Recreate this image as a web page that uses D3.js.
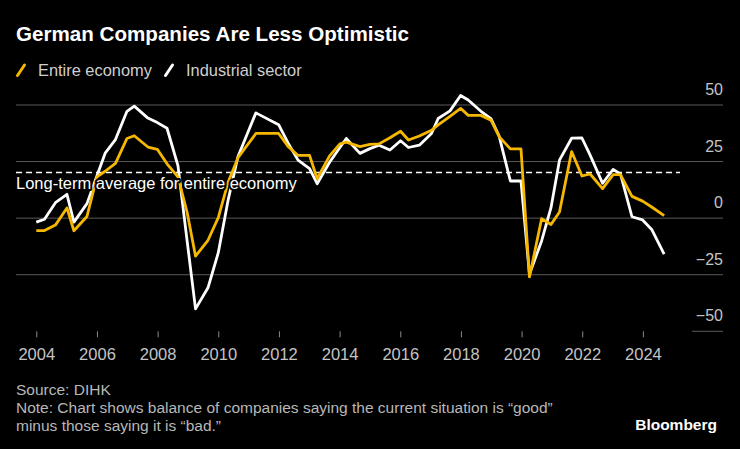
<!DOCTYPE html>
<html>
<head>
<meta charset="utf-8">
<script src="https://cdn.jsdelivr.net/npm/d3@7"></script>
<style>
  html, body { margin: 0; padding: 0; background: #000; }
  svg { display: block; }
  text { font-family: "Liberation Sans", Arial, sans-serif; }
</style>
</head>
<body>
<svg id="chart" width="740" height="449"></svg>
<script>
// ---- data ----
const dates = [2004.00, 2004.27, 2004.63, 2005.01, 2005.24, 2005.67, 2006.00, 2006.27, 2006.61, 2006.99,
  2007.23, 2007.68, 2007.99, 2008.31, 2008.67, 2008.97, 2009.25, 2009.66, 2010.00, 2010.32,
  2010.65, 2011.24, 2011.99, 2012.30, 2012.63, 2013.01, 2013.26, 2013.67, 2014.01, 2014.22,
  2014.67, 2015.00, 2015.30, 2015.66, 2016.01, 2016.27, 2016.63, 2017.03, 2017.25, 2017.64,
  2017.99, 2018.24, 2018.66, 2018.99, 2019.26, 2019.63, 2019.98, 2020.26, 2020.66, 2020.97,
  2021.25, 2021.65, 2021.99, 2022.26, 2022.67, 2023.02, 2023.26, 2023.64, 2023.99, 2024.29, 2024.70];
const entireEconomy = [-5.7, -5.7, -3.3, 4.3, -5.8, 0.5, 18.0, 20.5, 24.0, 35.0,
  36.2, 31.2, 30.2, 23.8, 18.0, 2.5, -17.0, -10.0, 0.0, 15.5,
  26.5, 37.2, 37.2, 31.5, 27.5, 27.5, 17.2, 27.3, 32.6, 33.4,
  31.4, 32.4, 32.6, 35.3, 38.2, 34.3, 36.1, 38.6, 41.0, 44.8,
  48.3, 45.2, 45.2, 43.1, 35.8, 30.4, 30.4, -26.2, -0.5, -3.0,
  2.5, 29.2, 18.4, 19.3, 12.8, 19.0, 19.0, 9.4, 7.3, 4.7, 0.9];
const industrialSector = [-2.0, -0.7, 6.6, 10.3, -2.0, 6.2, 18.5, 28.5, 34.5, 47.0,
  49.3, 44.0, 42.0, 39.5, 23.0, -10.0, -40.3, -31.0, -15.5, 7.5,
  27.0, 46.3, 41.1, 33.0, 25.4, 21.7, 15.0, 24.5, 31.0, 35.0,
  28.4, 30.5, 32.0, 29.9, 34.0, 31.0, 32.0, 37.2, 43.8, 47.2,
  54.0, 52.0, 47.0, 43.8, 36.0, 16.2, 16.2, -25.0, -10.3, 4.4,
  25.4, 35.1, 35.2, 27.6, 15.2, 21.3, 19.3, 0.4, -1.0, -5.2, -16.1];
const longTermAverage = 20;
const yTicks = [-50, -25, 0, 25, 50];
const xTicks = [2004, 2006, 2008, 2010, 2012, 2014, 2016, 2018, 2020, 2022, 2024];
const seriesNames = ["Entire economy", "Industrial sector"];
const seriesColors = ["#f5b700", "#ffffff"];

// ---- layout ----
const svg = d3.select("#chart");
const x = d3.scaleLinear().domain([2004, 2024]).range([36.3, 642.9]);
const y = d3.scaleLinear().domain([-50, 50]).range([330.8, 104.5]);
const gridLeft = 16, gridRight = 723;

svg.append("rect").attr("width", 740).attr("height", 449).attr("fill", "#000");

// title
svg.append("text").attr("x", 16).attr("y", 41)
  .attr("fill", "#fff").attr("font-size", 20.6).attr("font-weight", "bold")
  .text("German Companies Are Less Optimistic");

// legend
const legendX = [17, 165];
seriesNames.forEach((name, i) => {
  const g = svg.append("g").attr("transform", `translate(${legendX[i]},0)`);
  g.append("line").attr("x1", 0.5).attr("y1", 75.5).attr("x2", 7.5).attr("y2", 65)
    .attr("stroke", seriesColors[i]).attr("stroke-width", 3).attr("stroke-linecap", "round");
  g.append("text").attr("x", 21).attr("y", 76).attr("fill", "#cfcfcf")
    .attr("font-size", 16.4).text(name);
});

// y axis + grid
const yAxis = d3.axisLeft(y).tickValues(yTicks).tickSize(gridRight - gridLeft).tickFormat(d3.format("d"));
const gy = svg.append("g").attr("transform", `translate(${gridRight},0)`).call(yAxis);
gy.select(".domain").remove();
gy.selectAll(".tick line").attr("stroke", "#5a5a5a").attr("stroke-width", 1);
gy.selectAll(".tick text").attr("x", 0).attr("dy", -10).attr("text-anchor", "end")
  .attr("fill", "#c4c4c4").attr("font-size", 16).attr("font-family", null);
gy.selectAll(".tick").filter(d => d === -50).select("line").attr("x2", -31);

// x axis
const xAxis = d3.axisBottom(x).tickValues(xTicks).tickSize(6).tickFormat(d3.format("d"));
const gx = svg.append("g").attr("transform", `translate(0,${y(-50) + 0.5})`).call(xAxis);
gx.select(".domain").remove();
gx.selectAll(".tick line").attr("stroke", "#8a8a8a");
gx.selectAll(".tick text").attr("y", 17).attr("dy", "0.71em")
  .attr("fill", "#c4c4c4").attr("font-size", 16.5).attr("font-family", null);

// long-term average line
svg.append("line").attr("x1", gridLeft).attr("x2", 680)
  .attr("y1", y(longTermAverage)).attr("y2", y(longTermAverage))
  .attr("stroke", "#fff").attr("stroke-width", 1.5).attr("stroke-dasharray", "6,4");

// series
const line = d3.line().x(d => x(d[0])).y(d => y(d[1]));
const series = [entireEconomy, industrialSector];
[1, 0].forEach(i => {
  svg.append("path")
    .datum(dates.map((d, k) => [d, series[i][k]]))
    .attr("d", line)
    .attr("fill", "none")
    .attr("stroke", seriesColors[i])
    .attr("stroke-width", 2.8)
    .attr("stroke-linejoin", "round");
});

// annotation label with halo
svg.append("text").attr("x", 16).attr("y", 189)
  .attr("fill", "#fff").attr("font-size", 16.5)
  .attr("stroke", "#000").attr("stroke-width", 4).attr("paint-order", "stroke")
  .attr("stroke-linejoin", "round")
  .text("Long-term average for entire economy");

// footer
const footer = ["Source: DIHK",
  "Note: Chart shows balance of companies saying the current situation is \u201cgood\u201d",
  "minus those saying it is \u201cbad.\u201d"];
svg.selectAll(".foot").data(footer).join("text").attr("class", "foot")
  .attr("x", 16).attr("y", (d, i) => 395 + i * 18)
  .attr("fill", "#b8b8b8").attr("font-size", 15.5)
  .text(d => d);

svg.append("text").attr("x", 717).attr("y", 430).attr("text-anchor", "end")
  .attr("fill", "#fff").attr("font-size", 15.5).attr("font-weight", "bold")
  .text("Bloomberg");
</script>
</body>
</html>
